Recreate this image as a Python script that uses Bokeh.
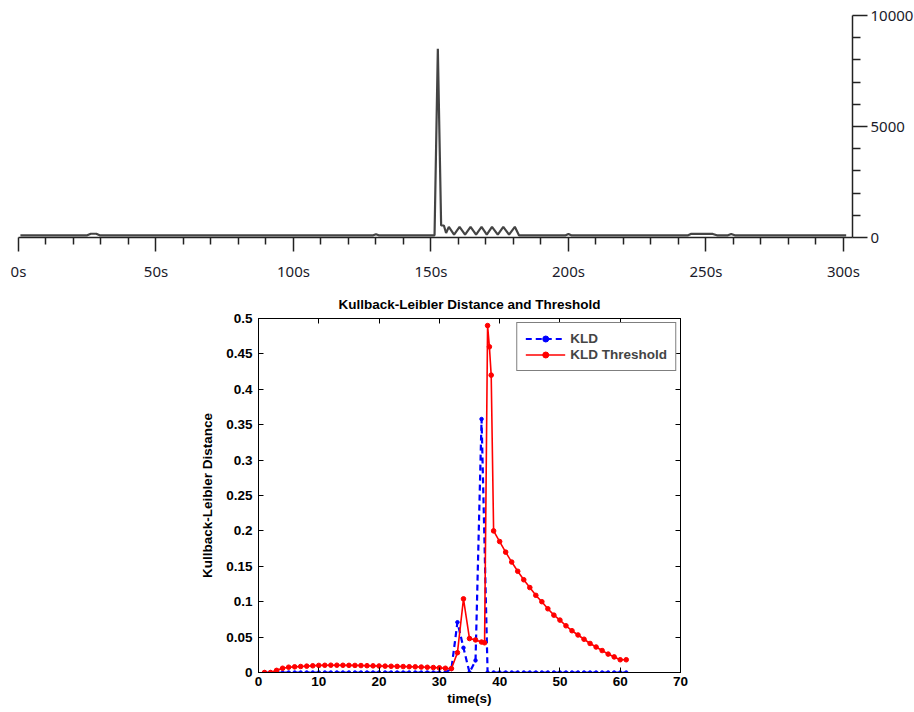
from bokeh.plotting import figure
from bokeh.models import Range1d, FixedTicker, LinearAxis, Legend, LegendItem, CustomJSTickFormatter
from bokeh.embed import file_html
from bokeh.resources import INLINE

# ---------------- data: top signal (seconds, value) ----------------
sig_t = [0.7, 25.0, 26.3, 28.3, 29.5, 129.0, 130.0, 131.0, 151.3, 152.5, 153.7, 154.7, 155.5,
         156.5, 158.4, 160.4, 162.4, 164.4, 166.4, 168.4, 170.3, 172.2, 174.3, 176.3, 178.4, 180.5,
         182.0, 199.0, 200.0, 201.0, 243.5, 244.5, 252.5, 254.0, 258.0, 259.2, 260.5, 301.0]
sig_v = [100, 100, 170, 170, 100, 100, 150, 100, 100, 8500, 540, 540, 200,
         480, 130, 480, 130, 480, 130, 480, 130, 480, 130, 480, 130, 480,
         100, 100, 160, 100, 100, 160, 160, 100, 100, 160, 100, 100]
top_xticks = [0, 50, 100, 150, 200, 250, 300]
top_xlabels = ["0s", "50s", "100s", "150s", "200s", "250s", "300s"]
top_xminor = [10, 20, 30, 40, 60, 70, 80, 90, 110, 120, 130, 140, 160, 170, 180, 190,
              210, 220, 230, 240, 260, 270, 280, 290]
top_yticks = [0, 5000, 10000]
top_yminor = [1000, 2000, 3000, 4000, 6000, 7000, 8000, 9000]

# ---------------- data: KLD and threshold ----------------
kld_t = [1, 2, 3, 4, 5, 6, 7, 8, 9, 10, 11, 12, 13, 14, 15, 16, 17, 18, 19, 20,
         21, 22, 23, 24, 25, 26, 27, 28, 29, 30, 31, 32, 33, 34, 35, 36, 37, 38, 39, 40,
         41, 42, 43, 44, 45, 46, 47, 48, 49, 50, 51, 52, 53, 54, 55, 56, 57, 58, 59, 60, 61]
kld_v = [0, 0, 0, 0, 0, 0, 0, 0, 0, 0, 0, 0, 0, 0, 0, 0, 0, 0, 0, 0,
         0, 0, 0, 0, 0, 0, 0, 0, 0, 0, 0, 0.005, 0.071, 0.035, 0.0, 0.017, 0.358, 0, 0, 0,
         0, 0, 0, 0, 0, 0, 0, 0, 0, 0, 0, 0, 0, 0, 0, 0, 0, 0, 0, 0, 0]
thr_t = [1, 2, 3, 4, 5, 6, 7, 8, 9, 10, 11, 12, 13, 14, 15, 16, 17, 18, 19, 20,
         21, 22, 23, 24, 25, 26, 27, 28, 29, 30, 31, 32, 33, 34, 35, 36, 37, 37.5, 38, 38.3, 38.6,
         39, 40, 41, 42, 43, 44, 45, 46, 47, 48, 49, 50, 51, 52, 53, 54, 55, 56, 57, 58, 59, 60, 61]
thr_v = [0, 0, 0.003, 0.006, 0.0075, 0.008, 0.0085, 0.009, 0.0095, 0.01, 0.0102, 0.0103, 0.0103,
         0.0102, 0.0101, 0.01, 0.0098, 0.0096, 0.0094, 0.0092, 0.009, 0.0088, 0.0086, 0.0084,
         0.0082, 0.008, 0.0077, 0.0074, 0.007, 0.0066, 0.006, 0.0055, 0.028, 0.104, 0.048, 0.046,
         0.043, 0.042, 0.49, 0.46, 0.42,
         0.2, 0.185, 0.17, 0.156, 0.143, 0.131, 0.12, 0.109, 0.1, 0.09, 0.081, 0.074, 0.066,
         0.059, 0.053, 0.047, 0.041, 0.036, 0.031, 0.026, 0.022, 0.018, 0.018]
kl_xticks = [0, 10, 20, 30, 40, 50, 60, 70]
kl_xlabels = ["0", "10", "20", "30", "40", "50", "60", "70"]
kl_yticks = [0, 0.05, 0.1, 0.15, 0.2, 0.25, 0.3, 0.35, 0.4, 0.45, 0.5]
kl_ylabels = ["0", "0.05", "0.1", "0.15", "0.2", "0.25", "0.3", "0.35", "0.4", "0.45", "0.5"]

# ---------------- top figure ----------------
p1 = figure(output_backend="svg", toolbar_location=None,
            frame_width=834, frame_height=222,
            x_range=Range1d(0, 303.3), y_range=Range1d(0, 10000),
            x_axis_location="below", y_axis_location="right",
            min_border_left=18, min_border_top=15, min_border_bottom=50, min_border_right=0)
p1.outline_line_color = None
p1.grid.visible = False
p1.background_fill_color = "white"
p1.border_fill_color = "white"
p1.line(sig_t, sig_v, line_color="#444444", line_width=2.2)

xa = p1.xaxis[0]
xa.ticker = FixedTicker(ticks=top_xticks, minor_ticks=top_xminor)
xa.major_label_overrides = {t: l for t, l in zip(top_xticks, top_xlabels)}
ya = p1.yaxis[0]
ya.ticker = FixedTicker(ticks=top_yticks, minor_ticks=top_yminor)
ya.major_label_overrides = {t: str(t) for t in top_yticks}
for ax in (xa, ya):
    ax.axis_line_color = "#222222"
    ax.axis_line_width = 1.5
    ax.major_tick_line_color = "#222222"
    ax.minor_tick_line_color = "#222222"
    ax.major_tick_line_width = 1.5
    ax.minor_tick_line_width = 1.5
    ax.major_tick_in = 0
    ax.minor_tick_in = 0
    ax.major_label_text_font = "Noto Sans"
    ax.major_label_text_font_size = "15px"
    ax.major_label_text_color = "#1a1a2a"
xa.major_tick_out = 14
xa.minor_tick_out = 7
xa.major_label_standoff = 9
ya.major_tick_out = 15
ya.minor_tick_out = 8
ya.major_label_standoff = 3

# ---------------- bottom figure ----------------
FONT = "Liberation Sans"
p2 = figure(output_backend="svg", toolbar_location=None,
            frame_width=422, frame_height=354,
            x_range=Range1d(0, 70), y_range=Range1d(0, 0.5),
            min_border_left=258, min_border_top=31, min_border_right=10, min_border_bottom=0,
            title="Kullback-Leibler Distance and Threshold")
p2.title.align = "center"
p2.title.text_font = FONT
p2.title.text_font_style = "bold"
p2.title.text_font_size = "13.5px"
p2.title.text_color = "black"
p2.title.standoff = 13
p2.outline_line_color = "black"
p2.outline_line_width = 1
p2.grid.visible = False

kl_line = p2.line(kld_t, kld_v, line_color="#0000ff", line_width=2.2, line_dash="6 4")
kl_pts = p2.scatter(kld_t, kld_v, marker="circle", size=3.5, color="#0000ff")
th_line = p2.line(thr_t, thr_v, line_color="#ff0000", line_width=1.6)
th_pts = p2.scatter(thr_t, thr_v, marker="circle", size=4.6, color="#ff0000")

bx = p2.xaxis[0]
by = p2.yaxis[0]
bx.ticker = FixedTicker(ticks=kl_xticks)
by.ticker = FixedTicker(ticks=kl_yticks)
bx.major_label_overrides = {t: l for t, l in zip(kl_xticks, kl_xlabels)}
by.major_label_overrides = {t: l for t, l in zip(kl_yticks, kl_ylabels)}
bx.axis_label = "time(s)"
by.axis_label = "Kullback-Leibler Distance"
top_ax = LinearAxis(ticker=FixedTicker(ticks=kl_xticks), formatter=CustomJSTickFormatter(code="return ''"))
right_ax = LinearAxis(ticker=FixedTicker(ticks=kl_yticks), formatter=CustomJSTickFormatter(code="return ''"))
p2.add_layout(top_ax, "above")
p2.add_layout(right_ax, "right")
for ax in (bx, by, top_ax, right_ax):
    ax.axis_line_color = "black"
    ax.axis_line_width = 1
    ax.major_tick_line_color = "black"
    ax.major_tick_in = 5
    ax.major_tick_out = 0
    ax.minor_tick_line_color = None
    ax.major_label_text_font = FONT
    ax.major_label_text_font_style = "bold"
    ax.major_label_text_font_size = "13.5px"
    ax.major_label_text_color = "black"
    ax.axis_label_text_font = FONT
    ax.axis_label_text_font_style = "bold"
    ax.axis_label_text_font_size = "13.5px"
    ax.axis_label_text_color = "black"
top_ax.major_label_standoff = 0
right_ax.major_label_standoff = 0
bx.major_label_standoff = 4
bx.axis_label_standoff = 2
by.major_label_standoff = 6
by.axis_label_standoff = 8

legend = Legend(items=[LegendItem(label="KLD", renderers=[kl_line, kl_pts]),
                       LegendItem(label="KLD Threshold", renderers=[th_line, th_pts])],
                location="top_right")
legend.margin = 4
legend.padding = 8
legend.spacing = 1
legend.label_height = 15
legend.glyph_height = 15
legend.glyph_width = 40
legend.label_standoff = 5
legend.border_line_color = "black"
legend.border_line_width = 1
legend.label_text_font = FONT
legend.label_text_font_style = "bold"
legend.label_text_font_size = "13.5px"
legend.background_fill_alpha = 1
p2.add_layout(legend)

open("out.html", "w").write(file_html([p1, p2], INLINE))
